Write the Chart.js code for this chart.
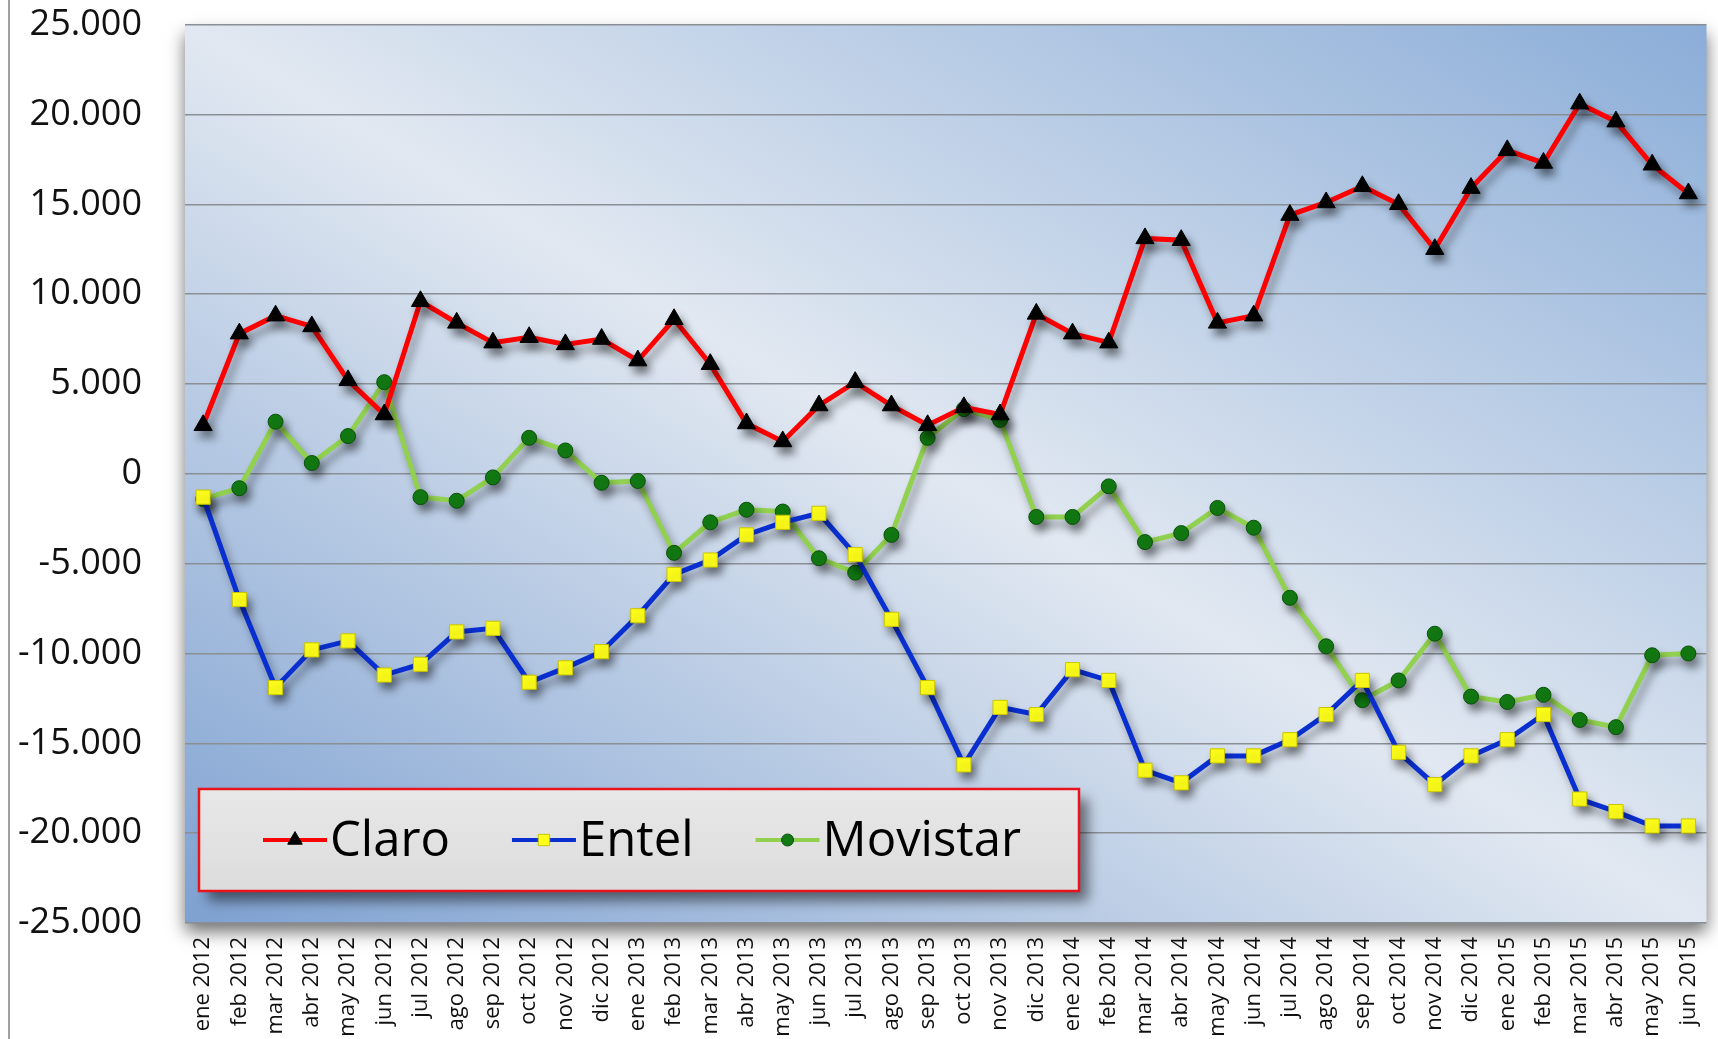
<!DOCTYPE html>
<html>
<head>
<meta charset="utf-8">
<script src="https://cdn.jsdelivr.net/npm/chart.js@4.4.1/dist/chart.umd.min.js"></script>
<style>
  html, body { margin: 0; padding: 0; background: #fff; }
  #wrap { width: 1718px; height: 1039px; }
</style>
</head>
<body>
<div id="wrap"><canvas id="chart" width="1718" height="1039"></canvas></div>
<script>
const months = ['ene 2012', 'feb 2012', 'mar 2012', 'abr 2012', 'may 2012', 'jun 2012', 'jul 2012', 'ago 2012', 'sep 2012', 'oct 2012', 'nov 2012', 'dic 2012',
    'ene 2013', 'feb 2013', 'mar 2013', 'abr 2013', 'may 2013', 'jun 2013', 'jul 2013', 'ago 2013', 'sep 2013', 'oct 2013', 'nov 2013', 'dic 2013',
    'ene 2014', 'feb 2014', 'mar 2014', 'abr 2014', 'may 2014', 'jun 2014', 'jul 2014', 'ago 2014', 'sep 2014', 'oct 2014', 'nov 2014', 'dic 2014',
    'ene 2015', 'feb 2015', 'mar 2015', 'abr 2015', 'may 2015', 'jun 2015'];

const claro = [2700, 7800, 8800, 8200, 5200, 3300, 9600, 8400, 7300, 7600, 7200, 7500,
    6300, 8600, 6100, 2800, 1800, 3800, 5100, 3800, 2700, 3700, 3300, 8900,
    7800, 7300, 13100, 13000, 8400, 8800, 14400, 15100, 16000, 15000, 12500, 15900,
    18000, 17300, 20600, 19600, 17200, 15600];

const entel = [-1300, -7000, -11900, -9800, -9300, -11200, -10600, -8800, -8600, -11600, -10800, -9900,
    -7900, -5600, -4800, -3400, -2700, -2200, -4500, -8100, -11900, -16200, -13000, -13400,
    -10900, -11500, -16500, -17200, -15700, -15700, -14800, -13400, -11500, -15500, -17300, -15700,
    -14800, -13400, -18100, -18800, -19600, -19600];

const movistar = [-1400, -800, 2900, 600, 2100, 5100, -1300, -1500, -200, 2000, 1300, -500,
    -400, -4400, -2700, -2000, -2100, -4700, -5500, -3400, 2000, 3600, 3000, -2400,
    -2400, -700, -3800, -3300, -1900, -3000, -6900, -9600, -12600, -11500, -8900, -12400,
    -12700, -12300, -13700, -14100, -10100, -10000];

const yMin = -25000;
const yMax = 25000;
const yStep = 5000;

const FONT = '"Open Sans", "DejaVu Sans", sans-serif';

function fmtMiles(v) {
    const s = Math.abs(v).toString().replace(/\B(?=(\d{3})+(?!\d))/g, '.');
    return (v < 0 ? '-' : '') + s;
}

// fondo degradado del area de trazado + linea del marco izquierdo
const backdrop = {
    id: 'backdrop',
    beforeDraw(chart) {
        const { ctx, chartArea: a } = chart;
        const W = a.right - a.left, H = a.bottom - a.top;
        const cx = a.left + W / 2, cy = a.top + H / 2;
        const L = Math.sqrt(W * W + H * H);
        const k = W * H / L;
        const ux = H / L, uy = -W / L;
        const g = ctx.createLinearGradient(cx - k * ux, cy - k * uy, cx + k * ux, cy + k * uy);
        g.addColorStop(0, '#7ea1d1');
        g.addColorStop(0.5, '#e1e8f1');
        g.addColorStop(1, '#8badd8');
        ctx.save();
        ctx.shadowColor = 'rgba(0,0,0,0.55)';
        ctx.shadowBlur = 16;
        ctx.shadowOffsetY = 9;
        ctx.fillStyle = g;
        ctx.fillRect(a.left, a.top, W, H);
        ctx.restore();

        ctx.save();
        ctx.strokeStyle = '#a0a0a0';
        ctx.lineWidth = 2;
        ctx.beginPath();
        ctx.moveTo(9, 0);
        ctx.lineTo(9, chart.height);
        ctx.stroke();
        ctx.restore();
    },
    beforeDatasetsDraw(chart) {
        const ctx = chart.ctx;
        ctx.save();
        ctx.shadowColor = 'rgba(0,0,0,0.4)';
        ctx.shadowBlur = 9;
        ctx.shadowOffsetX = 4;
        ctx.shadowOffsetY = 7;
    },
    afterDatasetsDraw(chart) {
        chart.ctx.restore();
    }
};

// leyenda dentro del grafico, abajo a la izquierda
const boxLegend = {
    id: 'boxLegend',
    afterDraw(chart) {
        const ctx = chart.ctx;
        const x = 199, y = 789, w = 880, h = 102;
        ctx.save();
        ctx.shadowColor = 'rgba(0,0,0,0.5)';
        ctx.shadowBlur = 12;
        ctx.shadowOffsetX = 9;
        ctx.shadowOffsetY = 10;
        const g = ctx.createLinearGradient(0, y, 0, y + h);
        g.addColorStop(0, '#e8e8e8');
        g.addColorStop(1, '#dcdcdc');
        ctx.fillStyle = g;
        ctx.fillRect(x, y, w, h);
        ctx.restore();
        ctx.save();
        ctx.strokeStyle = '#e8141c';
        ctx.lineWidth = 2.5;
        ctx.strokeRect(x, y, w, h);

        ctx.font = '49px ' + FONT;
        ctx.textBaseline = 'middle';
        const cy = 840;
        let px = 263;
        chart.data.datasets.forEach(ds => {
            ctx.strokeStyle = ds.borderColor;
            ctx.lineWidth = 4;
            ctx.beginPath();
            ctx.moveTo(px, cy);
            ctx.lineTo(px + 64, cy);
            ctx.stroke();
            ctx.fillStyle = ds.pointBackgroundColor;
            ctx.strokeStyle = ds.pointBorderColor;
            ctx.lineWidth = ds.pointBorderWidth;
            Chart.helpers.drawPoint(ctx, {
                pointStyle: ds.pointStyle,
                radius: ds.pointRadius * 0.8,
                borderWidth: ds.pointBorderWidth
            }, px + 32, cy);
            ctx.fillStyle = '#000';
            ctx.fillText(ds.label, px + 67, cy + 2);
            px += 67 + ctx.measureText(ds.label).width + 62;
        });
        ctx.restore();
    }
};

new Chart(document.getElementById('chart'), {
    type: 'line',
    data: {
        labels: months,
        datasets: [
            {
                label: 'Claro',
                data: claro,
                borderColor: '#ff0000',
                borderWidth: 5,
                pointStyle: 'triangle',
                pointRadius: 10.5,
                pointBackgroundColor: '#000000',
                pointBorderColor: '#000000',
                pointBorderWidth: 1,
                tension: 0
            },
            {
                label: 'Entel',
                data: entel,
                borderColor: '#0a2fd0',
                borderWidth: 5,
                pointStyle: 'rect',
                pointRadius: 10,
                pointBackgroundColor: '#ffff1a',
                pointBorderColor: '#c9c400',
                pointBorderWidth: 1,
                tension: 0
            },
            {
                label: 'Movistar',
                data: movistar,
                borderColor: '#92d050',
                borderWidth: 5,
                pointStyle: 'circle',
                pointRadius: 7.5,
                pointBackgroundColor: '#127a12',
                pointBorderColor: '#0b4f0b',
                pointBorderWidth: 1,
                tension: 0
            }
        ]
    },
    options: {
        responsive: false,
        animation: false,
        events: [],
        layout: {
            padding: { left: 0, right: 0, top: 24, bottom: 0 }
        },
        plugins: {
            legend: { display: false },
            tooltip: { enabled: false }
        },
        scales: {
            x: {
                offset: true,
                grid: { display: false, drawTicks: false },
                border: { display: false },
                ticks: {
                    autoSkip: false,
                    maxRotation: 90,
                    minRotation: 90,
                    padding: 14,
                    color: '#111',
                    font: { family: FONT, size: 22 }
                },
                afterFit(scale) {
                    scale.height = 116;
                    scale.paddingLeft = 0;
                    scale.paddingRight = 0;
                }
            },
            y: {
                min: yMin,
                max: yMax,
                grid: {
                    color: '#8a8f96',
                    lineWidth: 1.5,
                    drawTicks: true,
                    tickLength: 40,
                    tickColor: 'rgba(0,0,0,0)'
                },
                border: { display: false },
                ticks: {
                    stepSize: yStep,
                    padding: 3,
                    color: '#111',
                    font: { family: FONT, size: 36 },
                    callback: v => fmtMiles(v)
                },
                afterFit(scale) { scale.width = 185; }
            }
        }
    },
    plugins: [backdrop, boxLegend]
});
</script>
</body>
</html>
